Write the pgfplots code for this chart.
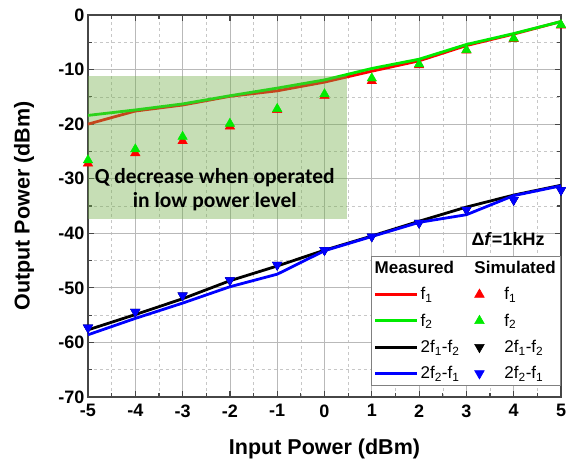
\documentclass[border=0pt]{standalone}
\usepackage{fontspec}
\setmainfont{Liberation Sans}
\newfontfamily\calibri{Carlito}
\usepackage{pgfplots}
\usepackage{pgfplotstable}
\pgfplotsset{compat=1.18}
\usetikzlibrary{calc}

\definecolor{fone}{RGB}{255,0,0}
\definecolor{ftwo}{RGB}{0,235,0}
\definecolor{imblue}{RGB}{0,0,255}
\definecolor{lowgreen}{RGB}{112,173,71}
\definecolor{gridmaj}{RGB}{185,185,185}
\definecolor{axisgray}{RGB}{70,70,70}

% columns: input power, measured f1, f2, 2f1-f2, 2f2-f1, then simulated ones
\pgfplotstableread{
x   mf1    mf2    mim1   mim2   sf1    sf2    sim1   sim2
-5  -20.0  -18.4  -57.7  -58.6  -27.2  -26.6  -57.3  -57.3
-4  -17.6  -17.4  -54.9  -55.6  -25.3  -24.6  -54.4  -54.4
-3  -16.5  -16.3  -52.0  -52.8  -23.1  -22.3  -51.4  -51.4
-2  -14.9  -14.8  -48.7  -49.8  -20.4  -19.9  -48.6  -48.6
-1  -13.9  -13.4  -46.0  -47.5  -17.4  -17.2  -45.8  -45.8
 0  -12.3  -11.9  -43.1  -43.2  -14.8  -14.5  -43.1  -43.1
 1  -10.3   -9.8  -40.5  -40.6  -12.1  -11.6  -40.6  -40.6
 2   -8.4   -8.1  -37.8  -38.0   -9.2   -9.0  -38.1  -38.1
 3   -5.6   -5.4  -35.2  -36.6   -6.5   -6.4  -35.7  -35.7
 4   -3.5   -3.4  -33.0  -33.1   -4.4   -4.3  -33.9  -33.9
 5   -1.2   -1.2  -31.2  -31.3   -1.9   -1.8  -32.1  -32.1
}\powerdata

\pgfplotsset{
  measline/.style={legend image code/.code={\draw[line width=2.8pt,##1] (0pt,0pt) -- (42pt,0pt);}},
  simleg/.style={legend image code/.code={%
    \draw[##1] plot coordinates {(5pt,0pt)};
    \path[draw=none, fill=none] (0pt,0pt) -- (28pt,0pt);}},
  uptri/.style={only marks, mark=triangle*, mark size=5.5pt},
  downtri/.style={only marks, mark=triangle*, mark size=5.5pt, mark options={rotate=180}},
}

\begin{document}
\begin{tikzpicture}
\begin{axis}[
  width=473pt, height=382pt, scale only axis,
  xmin=-5, xmax=5, ymin=-70, ymax=0,
  xtick={-5,...,5}, ytick={-70,-60,...,0},
  minor x tick num=1, minor y tick num=1,
  grid=both,
  major grid style={gridmaj, line width=0.8pt},
  minor grid style={gridmaj!80, dashed, line width=0.5pt},
  tick align=inside, major tick length=6pt, minor tick length=4pt,
  every tick/.style={axisgray, line width=1.2pt},
  axis line style={axisgray, line width=1.5pt},
  /pgf/number format/assume math mode=true,
  tick label style={font=\bfseries\fontsize{18}{18}\selectfont},
  xticklabel style={yshift=-4pt},
  xlabel={Input Power (dBm)}, ylabel={Output Power (dBm)},
  label style={font=\bfseries\fontsize{21.5}{21.5}\selectfont},
  xlabel style={at={(axis description cs:0.5,-0.136)}, anchor=center},
  ylabel style={at={(axis description cs:-0.135,0.5)}, anchor=center},
  legend columns=2,
  legend cell align=left,
  legend style={at={(rel axis cs:1.0,0.369)}, anchor=north east,
    draw=gray, line width=0.6pt, fill=white, inner xsep=3pt, inner ysep=3pt,
    font=\fontsize{17}{17}\selectfont, row sep=8.5pt,
    /tikz/every even column/.append style={column sep=13pt}},
]
\coordinate (ll) at (rel axis cs:0,0);
\coordinate (ur) at (rel axis cs:1,1);

% measured curves
\addplot[fone, line width=2.8pt, forget plot] table[x=x, y=mf1] {\powerdata};
\addplot[ftwo, line width=2.8pt, forget plot] table[x=x, y=mf2] {\powerdata};
\addplot[black, line width=2.8pt, forget plot] table[x=x, y=mim1] {\powerdata};
\addplot[imblue, line width=2.8pt, forget plot] table[x=x, y=mim2] {\powerdata};

% simulated points
\addplot[uptri, fone, forget plot] table[x=x, y=sf1] {\powerdata};
\addplot[uptri, ftwo, forget plot] table[x=x, y=sf2] {\powerdata};
\addplot[downtri, black, forget plot] table[x=x, y=sim1] {\powerdata};
\addplot[downtri, imblue, forget plot] table[x=x, y=sim2] {\powerdata};

% low power region
\fill[lowgreen, fill opacity=0.4] (axis cs:-5,-11.1) rectangle (axis cs:0.47,-37.4);
\node[font=\calibri\bfseries\fontsize{21.5}{24}\selectfont, align=center]
  at (axis cs:-2.32,-32.0) {Q decrease when operated\\in low power level};
\node[font=\bfseries\fontsize{18}{18}\selectfont] at (axis cs:3.88,-41.0) {Δ\textit{f}=1kHz};

% legend: measured (lines) and simulated (markers) side by side
\addlegendimage{empty legend}
\addlegendentry{\hspace*{-46pt}\textbf{Measured}}
\addlegendimage{empty legend}
\addlegendentry{\hspace*{-30pt}\textbf{Simulated}}
\addlegendimage{measline, fone}
\addlegendentry{f\textsubscript{1}}
\addlegendimage{simleg, uptri, fone}
\addlegendentry{f\textsubscript{1}}
\addlegendimage{measline, ftwo}
\addlegendentry{f\textsubscript{2}}
\addlegendimage{simleg, uptri, ftwo}
\addlegendentry{f\textsubscript{2}}
\addlegendimage{measline, black}
\addlegendentry{2f\textsubscript{1}-f\textsubscript{2}}
\addlegendimage{simleg, downtri, black}
\addlegendentry{2f\textsubscript{1}-f\textsubscript{2}}
\addlegendimage{measline, imblue}
\addlegendentry{2f\textsubscript{2}-f\textsubscript{1}}
\addlegendimage{simleg, downtri, imblue}
\addlegendentry{2f\textsubscript{2}-f\textsubscript{1}}
\end{axis}
\pgfresetboundingbox
\path[use as bounding box] ($(ll)+(-88pt,-65pt)$) rectangle ($(ur)+(5pt,15pt)$);
\end{tikzpicture}
\end{document}
